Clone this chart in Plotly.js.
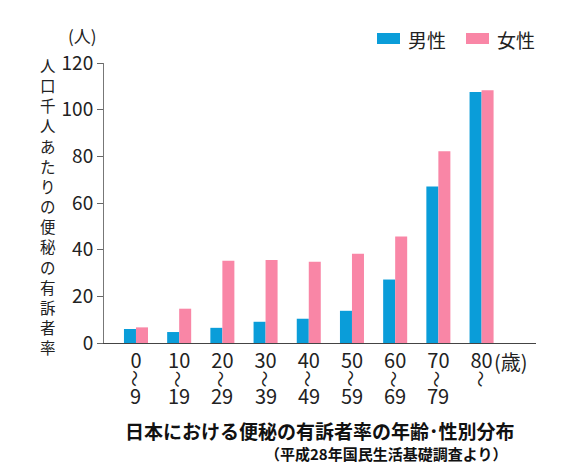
<!DOCTYPE html>
<html><head><meta charset="utf-8">
<script src="https://cdn.plot.ly/plotly-3.0.1.min.js"></script>
<style>body{margin:0;background:#fff}</style>
</head><body><div id="chart" style="width:578px;height:473px"></div>
<script>
// ---- data ----
const ageTop = ['0','10','20','30','40','50','60','70','80'];
const ageBottom = ['9','19','29','39','49','59','69','79',''];
const male = [6.0, 4.7, 6.5, 9.1, 10.4, 13.8, 27.2, 67.1, 107.6];
const female = [6.7, 14.7, 35.2, 35.6, 34.8, 38.3, 45.6, 82.2, 108.3];
const seriesNames = ['男性', '女性'];
const yTicks = [0, 20, 40, 60, 80, 100, 120];
const yTitle = '人口千人あたりの便秘の有訴者率';
const unitY = '(人)';
const unitX = '(歳)';
const chartTitle = '日本における便秘の有訴者率の年齢･性別分布';
const sourceNote = '（平成28年国民生活基礎調査より）';

// ---- styling ----
const FONT = '"Noto Sans CJK JP", "Noto Sans", sans-serif';
const BLUE = '#0a9dd9';
const PINK = '#f986a6';
const W = 578, H = 473;
const M = {l: 104, r: 42, t: 63, b: 130};
const PW = W - M.l - M.r, PH = H - M.t - M.b;
const px = v => (v - M.l) / PW;
const py = v => (H - M.b - v) / PH;

const idx = ageTop.map((_, i) => i);

const traces = [
  {type: 'bar', x: idx, y: male, name: seriesNames[0], marker: {color: BLUE}, hoverinfo: 'skip'},
  {type: 'bar', x: idx, y: female, name: seriesNames[1], marker: {color: PINK}, hoverinfo: 'skip'}
];

const ann = [];
// vertical y title, one glyph per line
ann.push({xref: 'paper', yref: 'paper', x: px(48), y: py(206), text: [...yTitle].join('<br>'),
  showarrow: false, xanchor: 'center', yanchor: 'middle', align: 'center', borderpad: 0,
  font: {family: FONT, size: 15.5, color: '#222'}});
ann.push({xref: 'paper', yref: 'paper', x: px(82), y: py(36), text: unitY, showarrow: false, borderpad: 0,
  xanchor: 'center', yanchor: 'middle', font: {family: FONT, size: 17, color: '#222'}});
// wave dash + lower age bound
idx.forEach(i => {
  ann.push({xref: 'x', yref: 'paper', x: i, y: py(379), text: '〜', textangle: 90, showarrow: false,
    xanchor: 'center', yanchor: 'middle', font: {family: FONT, size: 17, color: '#222'}});
  if (ageBottom[i]) {
    ann.push({xref: 'x', yref: 'paper', x: i, y: py(395.5), text: ageBottom[i], showarrow: false,
      xanchor: 'center', yanchor: 'middle', font: {family: FONT, size: 20, color: '#222'}});
  }
});
ann.push({xref: 'paper', yref: 'paper', x: px(492), y: py(361), text: unitX, showarrow: false,
  xanchor: 'left', yanchor: 'middle', font: {family: FONT, size: 20, color: '#222'}});
// legend (manual)
const shapes = [
  {type: 'rect', xref: 'paper', yref: 'paper', x0: px(377), x1: px(400), y0: py(44), y1: py(33), fillcolor: BLUE, line: {width: 0}},
  {type: 'rect', xref: 'paper', yref: 'paper', x0: px(466), x1: px(489), y0: py(44), y1: py(33), fillcolor: PINK, line: {width: 0}}
];
ann.push({xref: 'paper', yref: 'paper', x: px(406), y: py(39), text: seriesNames[0], showarrow: false,
  xanchor: 'left', yanchor: 'middle', font: {family: FONT, size: 19, color: '#222'}});
ann.push({xref: 'paper', yref: 'paper', x: px(495), y: py(39), text: seriesNames[1], showarrow: false,
  xanchor: 'left', yanchor: 'middle', font: {family: FONT, size: 19, color: '#222'}});
// bottom captions
ann.push({xref: 'paper', yref: 'paper', x: px(320), y: py(430), text: '<b>' + chartTitle + '</b>', showarrow: false,
  xanchor: 'center', yanchor: 'middle', font: {family: FONT, size: 19, color: '#111'}});
ann.push({xref: 'paper', yref: 'paper', x: px(386), y: py(453), text: '<b>' + sourceNote + '</b>', showarrow: false,
  xanchor: 'center', yanchor: 'middle', font: {family: FONT, size: 15, color: '#111'}});

const layout = {
  width: W, height: H, margin: M,
  paper_bgcolor: '#fff', plot_bgcolor: '#fff',
  showlegend: false,
  barmode: 'group', bargap: 0.444, bargroupgap: 0,
  font: {family: FONT, color: '#222'},
  xaxis: {
    range: [-0.74, 9.26], tickvals: idx, ticktext: ageTop, ticks: '',
    showgrid: false, zeroline: false, showline: true, linecolor: '#444', linewidth: 1,
    tickfont: {family: FONT, size: 20, color: '#222'}, fixedrange: true
  },
  yaxis: {
    range: [0, 120], tickvals: yTicks, ticks: 'outside', ticklen: 6, tickcolor: '#666',
    showgrid: false, zeroline: false, showline: true, linecolor: '#777', linewidth: 1,
    tickfont: {family: FONT, size: 19, color: '#222'}, fixedrange: true
  },
  annotations: ann, shapes: shapes
};

Plotly.newPlot('chart', traces, layout, {staticPlot: true, displayModeBar: false});
</script></body></html>
